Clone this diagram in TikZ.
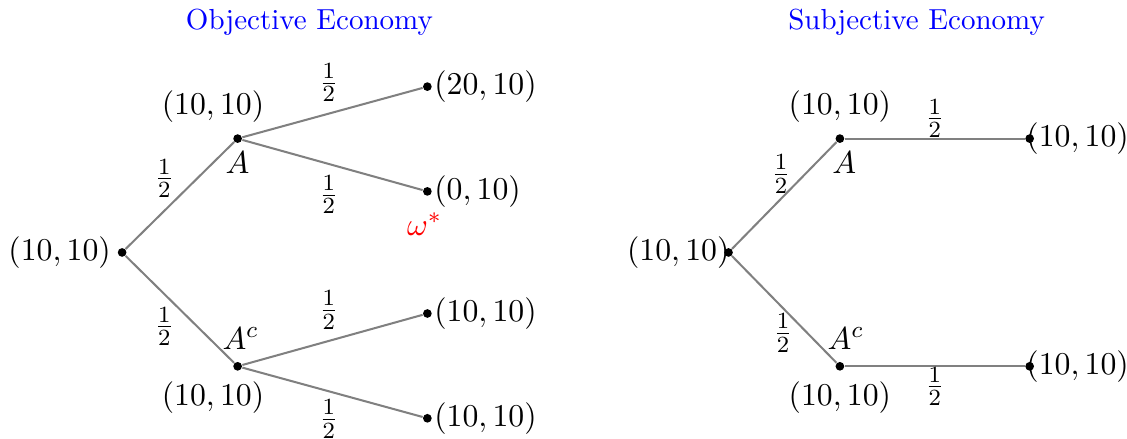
\documentclass[11pt,tikz,border=0pt]{standalone}
\usetikzlibrary{positioning}
\begin{document}
\begin{tikzpicture}[
    dot/.style={circle,fill=black,inner sep=0pt,minimum size=3pt},
    branch/.style={gray,line width=0.7pt},
    lbl/.style={inner sep=2pt},
    title/.style={blue,font=\small}
  ]
  \useasboundingbox (-1.48,-2.26) rectangle (12.18,3.06);

  % Titles
  \node[title] (tobj) at (2.27,2.79) {Objective Economy};
  \node[title] (tsub) at (9.63,2.79) {Subjective Economy};

  % Objective economy: points of the tree
  \node[dot] (o0) at (0,0) {};
  \node[dot] (oA) at (1.4,1.38) {};
  \node[dot] (oAc) at (1.4,-1.38) {};
  \node[dot] (o1) at (3.7,2.01) {};
  \node[dot] (o2) at (3.7,0.74) {};
  \node[dot] (o3) at (3.7,-0.74) {};
  \node[dot] (o4) at (3.7,-2.01) {};

  % Objective economy: branches with probabilities
  \draw[branch] (o0) -- (oA) node[pos=0.66,left=4pt,black] {$\frac{1}{2}$};
  \draw[branch] (o0) -- (oAc) node[pos=0.66,left=4pt,black] {$\frac{1}{2}$};
  \draw[branch] (oA) -- (o1) node[pos=0.48,above,black] {$\frac{1}{2}$};
  \draw[branch] (oA) -- (o2) node[pos=0.48,below,black] {$\frac{1}{2}$};
  \draw[branch] (oAc) -- (o3) node[pos=0.48,above,black] {$\frac{1}{2}$};
  \draw[branch] (oAc) -- (o4) node[pos=0.48,below=-1pt,black] {$\frac{1}{2}$};

  % Objective economy: labels
  \node[lbl,left=0pt of o0] (o0v) {$(10,10)$};
  \node[lbl,above=1.5pt of oA,xshift=-8.5pt] (oAv) {$(10,10)$};
  \node[lbl,below=0.5pt of oA] (oAn) {$A$};
  \node[lbl,above=2pt of oAc,xshift=1pt] (oAcn) {$A^c$};
  \node[lbl,below=1.5pt of oAc,xshift=-8.5pt] (oAcv) {$(10,10)$};
  \node[lbl,right=-1.5pt of o1] (o1v) {$(20,10)$};
  \node[lbl,right=-1.5pt of o2] (o2v) {$(0,10)$};
  \node[lbl,right=-1.5pt of o3] (o3v) {$(10,10)$};
  \node[lbl,right=-1.5pt of o4] (o4v) {$(10,10)$};
  \node[lbl,below=3.5pt of o2,xshift=-1pt,red] (ostar) {$\omega^*$};

  % Subjective economy: points of the tree
  \node[dot] (s0) at (7.35,0) {};
  \node[dot] (sA) at (8.7,1.38) {};
  \node[dot] (sAc) at (8.7,-1.38) {};
  \node[dot] (s1) at (11.0,1.38) {};
  \node[dot] (s2) at (11.0,-1.38) {};

  % Subjective economy: branches with probabilities
  \draw[branch] (s0) -- (sA) node[pos=0.7,left=1pt,black] {$\frac{1}{2}$};
  \draw[branch] (s0) -- (sAc) node[pos=0.72,left=1pt,black] {$\frac{1}{2}$};
  \draw[branch] (sA) -- (s1) node[midway,above,inner sep=0pt,black] {$\frac{1}{2}$};
  \draw[branch] (sAc) -- (s2) node[midway,below,inner sep=0pt,black] {$\frac{1}{2}$};

  % Subjective economy: labels
  \node[lbl,left=-4.2pt of s0] (s0v) {$(10,10)$};
  \node[lbl,above=1.5pt of sA] (sAv) {$(10,10)$};
  \node[lbl,below=0.5pt of sA,xshift=1.5pt] (sAn) {$A$};
  \node[lbl,above=2pt of sAc,xshift=2pt] (sAcn) {$A^c$};
  \node[lbl,below=1.5pt of sAc] (sAcv) {$(10,10)$};
  \node[lbl,right=-5pt of s1] (s1v) {$(10,10)$};
  \node[lbl,right=-5pt of s2] (s2v) {$(10,10)$};
\end{tikzpicture}
\end{document}
